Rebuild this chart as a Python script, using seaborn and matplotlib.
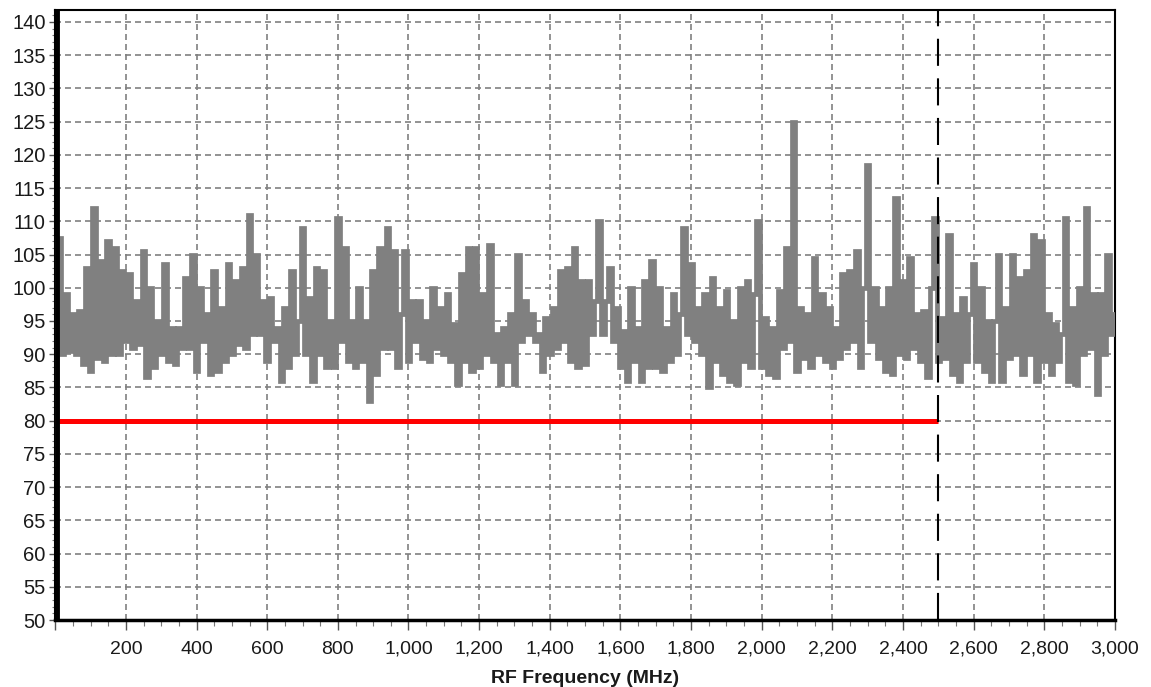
import numpy as np
import pandas as pd
import seaborn as sns
import matplotlib.pyplot as plt
from matplotlib.ticker import MultipleLocator, FuncFormatter

# spectrum level, one value every 10 MHz from 0 to 3000 MHz
level = [
    73, 107.5, 90, 99, 90.5, 96, 90, 96.5, 88.5, 103,
    87.5, 112, 89.5, 104, 89, 107, 90, 106, 90, 102.5,
    92, 102, 91, 98, 91.5, 105.5, 86.5, 100, 88, 95,
    90, 103.5, 89, 94, 88.5, 94, 91, 101.5, 91, 105,
    87.5, 100, 92, 96, 87, 102.5, 87.5, 97, 89, 103.5,
    90, 101, 91.5, 103, 91, 111, 93, 105, 93, 98,
    89, 98.5, 92, 94, 86, 97, 88, 102.5, 90, 95,
    109, 90, 98.5, 86, 103, 90, 102.5, 88, 95, 88,
    110.5, 92, 106, 89, 95, 88, 100, 89, 95, 83,
    102.5, 87, 106, 91, 109, 91, 105.5, 88, 96, 105.5,
    89, 98, 92, 98, 89.5, 95, 89, 100, 91, 97,
    90, 99, 89, 94.5, 85.5, 102, 89, 106, 87.5, 106,
    88, 99, 90, 106.5, 89, 93, 85.5, 94, 89, 96,
    85.5, 105, 92, 98, 93, 96, 92, 93, 87.5, 95.5,
    90, 97, 91, 102.5, 92, 103, 89, 106, 88, 101,
    88.5, 101, 93, 98, 110, 93, 98, 103, 92, 97,
    88, 93.5, 86, 100, 89, 94, 86, 101, 88, 104,
    88, 100, 87.5, 94, 89, 99, 90, 96, 109, 93,
    103.5, 92, 97, 90, 99, 85, 101.5, 89, 97, 87,
    99.5, 86, 95, 85.5, 100, 89, 101, 88, 99, 110,
    88, 95.5, 87, 94, 86.5, 99.5, 91, 106, 92, 125,
    87.5, 97, 89.5, 96, 88, 104.5, 90, 99, 89, 97,
    88, 94, 89.5, 102, 91, 102.5, 92, 105.5, 88, 100,
    118.5, 92, 100, 89.5, 97, 87.5, 100, 87, 113.5, 90,
    101, 89.5, 104.5, 91, 96, 89, 96.5, 86.5, 100, 110.5,
    89, 95.5, 89.5, 108, 87, 96, 86, 98.5, 89, 96,
    103.5, 89, 100, 87.5, 95, 86, 95, 105, 86, 97,
    89.5, 105, 90, 101.5, 87, 102.5, 90, 108, 86, 107,
    89, 96, 87, 94.5, 89, 93, 110.5, 86, 97, 85.5,
    100, 90, 112, 91, 99, 84, 99, 90, 105, 93,
    96,
]
freq = np.arange(0, 3001, 10)

limit_level = 80
limit_end = 2500

df = pd.DataFrame({'freq': freq, 'level': level})

sns.set_style('white')
plt.rcParams['font.family'] = ['Liberation Sans', 'DejaVu Sans']

fig = plt.figure(figsize=(11.51, 6.87), dpi=100)
ax = fig.add_axes([0.048, 0.0975, 0.9207, 0.888])

ax.grid(True, which='major', color='#808080', linestyle=(0, (3.6, 2.4)), linewidth=1.2)

sns.lineplot(data=df, x='freq', y='level', ax=ax, color='#808080',
             linewidth=3.4, drawstyle='steps-mid', estimator=None, zorder=3,
             solid_joinstyle='miter', solid_capstyle='butt')

ax.hlines(limit_level, 0, limit_end, color='#ff0000', linewidth=3.6, zorder=4)
ax.axvline(limit_end, color='black', linewidth=1.5, linestyle=(0, (13, 6)), zorder=5)
ax.axvline(5, color='black', linewidth=3.5, zorder=5)

ax.set_xlim(0, 3000)
ax.set_ylim(50, 141.8)
ax.xaxis.set_major_locator(MultipleLocator(200))
ax.xaxis.set_minor_locator(MultipleLocator(50))
ax.yaxis.set_major_locator(MultipleLocator(5))
ax.yaxis.set_minor_locator(MultipleLocator(1))
ax.xaxis.set_major_formatter(FuncFormatter(lambda v, p: '' if v == 0 else f'{int(v):,}'))

ax.tick_params(which='major', direction='out', width=1, color='#555555',
               labelsize=14, labelcolor='#1a1a1a', bottom=True, left=True)
ax.tick_params(axis='x', which='major', length=7, pad=8)
ax.tick_params(axis='y', which='major', length=4, pad=3, labelsize=14.5)
ax.tick_params(axis='x', which='minor', direction='out', length=4, width=0.8,
               color='#777777', bottom=True)
ax.tick_params(axis='y', which='minor', direction='out', length=2, width=0.8,
               color='#777777', left=True)

for side in ['top', 'right', 'bottom', 'left']:
    ax.spines[side].set_color('black')
    ax.spines[side].set_linewidth(1.5)
ax.spines['bottom'].set_linewidth(2.5)

ax.set_xlabel('RF Frequency (MHz)', fontsize=14, fontweight='bold', color='#1a1a1a', labelpad=9)
ax.set_ylabel('')

fig.savefig('out.png', dpi=100)
